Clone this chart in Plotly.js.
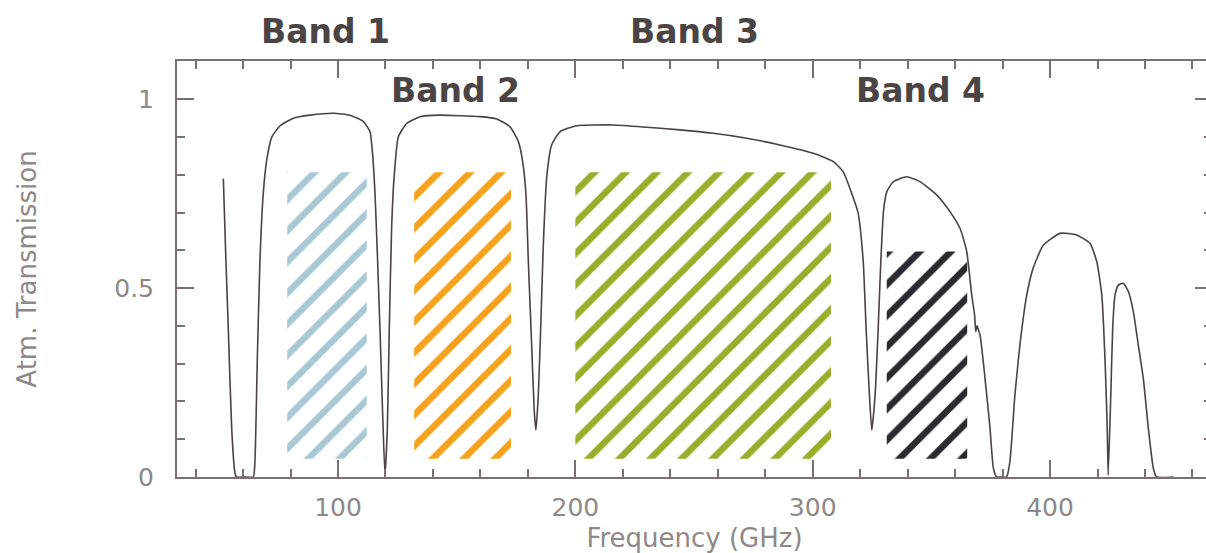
<!DOCTYPE html>
<html>
<head>
<meta charset="utf-8">
<script src="https://cdn.plot.ly/plotly-3.0.1.min.js"></script>
<style>
  html, body { margin: 0; padding: 0; background: #ffffff; overflow: hidden; }
  #chart { width: 1214px; height: 553px; }
</style>
</head>
<body>
<div id="chart"></div>
<script>
// Atmospheric transmission vs frequency (GHz)
const freqGHz = [51.7, 52.8, 53.8, 55.2, 56.6, 57.3, 60.5, 64.3, 65.0, 66.0,
  67.1, 68.5, 70.0, 72.1, 75.6, 81.2, 88.2, 98.0, 105.1, 110.7,
  113.5, 114.6, 115.6, 116.7, 117.7, 118.8, 119.8, 120.8, 121.6, 122.6,
  123.6, 125.4, 128.9, 134.6, 143.0, 159.8, 166.9, 172.5, 176.0, 177.8,
  179.2, 180.2, 181.6, 182.7, 183.4, 184.4, 185.4, 186.5, 187.9, 190.0,
  193.5, 200.6, 216.0, 230.1, 244.1, 258.1, 272.2, 286.2, 300.3, 308.7,
  312.9, 315.7, 319.1, 321.3, 322.5, 323.9, 324.9, 326.3, 327.6, 328.7,
  329.8, 331.2, 334.0, 339.6, 345.2, 352.2, 357.9, 362.1, 364.9, 367.0,
  368.2, 368.7, 369.2, 370.5, 372.6, 374.7, 376.1, 377.5, 379.6, 381.7,
  383.1, 385.2, 387.3, 390.2, 392.9, 397.2, 404.2, 411.2, 416.8, 419.7,
  421.8, 423.2, 424.1, 424.5, 425.6, 426.4, 427.4, 428.8, 430.9, 433.0,
  435.1, 437.2, 439.3, 441.4, 443.5, 444.9, 452.0];

const transmission = [0.79, 0.57, 0.39, 0.13, 0.01, 0.0, 0.0, 0.0, 0.04, 0.31,
  0.57, 0.75, 0.84, 0.90, 0.93, 0.95, 0.958, 0.963, 0.958, 0.941,
  0.914, 0.853, 0.75, 0.57, 0.39, 0.17, 0.005, 0.13, 0.39, 0.66,
  0.79, 0.90, 0.936, 0.954, 0.958, 0.954, 0.948, 0.927, 0.888, 0.835,
  0.747, 0.57, 0.349, 0.173, 0.124, 0.217, 0.394, 0.614, 0.791, 0.879,
  0.914, 0.930, 0.932, 0.926, 0.919, 0.910, 0.897, 0.879, 0.857, 0.835,
  0.808, 0.764, 0.70, 0.57, 0.394, 0.217, 0.124, 0.217, 0.394, 0.57,
  0.702, 0.755, 0.782, 0.795, 0.782, 0.747, 0.702, 0.658, 0.597, 0.482,
  0.43, 0.385, 0.40, 0.376, 0.262, 0.130, 0.024, 0.0, 0.0, 0.0,
  0.041, 0.217, 0.349, 0.482, 0.553, 0.614, 0.645, 0.641, 0.619, 0.57,
  0.482, 0.305, 0.13, 0.005, 0.217, 0.394, 0.482, 0.508, 0.513, 0.491,
  0.438, 0.349, 0.261, 0.13, 0.024, 0.0, 0.0];

// Receiver bands: frequency coverage and the height of each hatched block
const bandNames  = ['Band 1', 'Band 2', 'Band 3', 'Band 4'];
const bandLow    = [78.6, 132.1, 200.0, 331.2];
const bandHigh   = [112.1, 172.9, 307.7, 365.1];
const bandTop    = [0.807, 0.807, 0.807, 0.597];
const bandBottom = [0.048, 0.048, 0.048, 0.048];
const bandColors = ['#a9c8d6', '#f6a21c', '#9aae2c', '#2b2a30'];

// Band name placement: frequency of the label centre, height as a fraction of the plot
const labelFreq  = [94.9, 149.3, 250.0, 345.6];
const labelLevel = [1.072, 0.928, 1.072, 0.928];

const axisColor = '#7b6f6f';
const textGrey  = '#8e8888';
const thinFamily = '"DejaVu Sans ExtraLight", "DejaVu Sans", sans-serif';

const traces = [];
bandNames.forEach((name, i) => {
  traces.push({
    type: 'scatter',
    mode: 'lines',
    name: name,
    x: [bandLow[i], bandHigh[i], bandHigh[i], bandLow[i], bandLow[i]],
    y: [bandBottom[i], bandBottom[i], bandTop[i], bandTop[i], bandBottom[i]],
    fill: 'toself',
    fillcolor: 'rgba(0,0,0,0)',
    fillpattern: {
      shape: '/',
      fgcolor: bandColors[i],
      bgcolor: 'rgba(0,0,0,0)',
      fgopacity: 1,
      size: 22,
      solidity: 0.3
    },
    line: { width: 0 },
    hoverinfo: 'skip',
    showlegend: false
  });
});

traces.push({
  type: 'scatter',
  mode: 'lines',
  name: 'Atm. Transmission',
  x: freqGHz,
  y: transmission,
  line: { color: '#4b4242', width: 1.6, shape: 'spline', smoothing: 0.5 },
  showlegend: false
});

const annotations = bandNames.map((name, i) => ({
  text: name,
  x: labelFreq[i],
  y: labelLevel[i],
  xref: 'x',
  yref: 'paper',
  showarrow: false,
  xanchor: 'center',
  yanchor: 'middle',
  font: { family: 'DejaVu Sans', size: 33, weight: 'bold', color: '#4a4444' }
}));

const tickFont = { family: thinFamily, size: 25, color: textGrey };

const layout = {
  width: 1214,
  height: 553,
  margin: { l: 177, r: 2, t: 61, b: 76 },
  paper_bgcolor: '#ffffff',
  plot_bgcolor: '#ffffff',
  showlegend: false,
  xaxis: {
    range: [32.17, 468.24],
    tick0: 0,
    dtick: 100,
    ticks: 'inside',
    ticklen: 17,
    tickwidth: 2,
    tickcolor: axisColor,
    minor: { dtick: 20, ticks: 'inside', ticklen: 8, tickwidth: 2, tickcolor: axisColor },
    showline: true,
    linecolor: axisColor,
    linewidth: 2,
    mirror: 'ticks',
    showgrid: false,
    zeroline: false,
    tickfont: tickFont,
    ticklabelstandoff: 7,
    title: { text: 'Frequency (GHz)', font: { family: thinFamily, size: 26, color: textGrey }, standoff: 8 }
  },
  yaxis: {
    range: [0, 1.1014],
    tick0: 0,
    dtick: 0.5,
    ticks: 'inside',
    ticklen: 17,
    tickwidth: 2,
    tickcolor: axisColor,
    minor: { dtick: 0.1, ticks: 'inside', ticklen: 8, tickwidth: 2, tickcolor: axisColor },
    showline: true,
    linecolor: axisColor,
    linewidth: 2,
    mirror: 'ticks',
    showgrid: false,
    zeroline: false,
    tickfont: tickFont,
    ticklabelstandoff: 16,
    title: { text: 'Atm. Transmission', font: { family: thinFamily, size: 26, color: textGrey }, standoff: 70 }
  },
  annotations: annotations
};

Plotly.newPlot('chart', traces, layout, { displayModeBar: false, staticPlot: true });
</script>
</body>
</html>
